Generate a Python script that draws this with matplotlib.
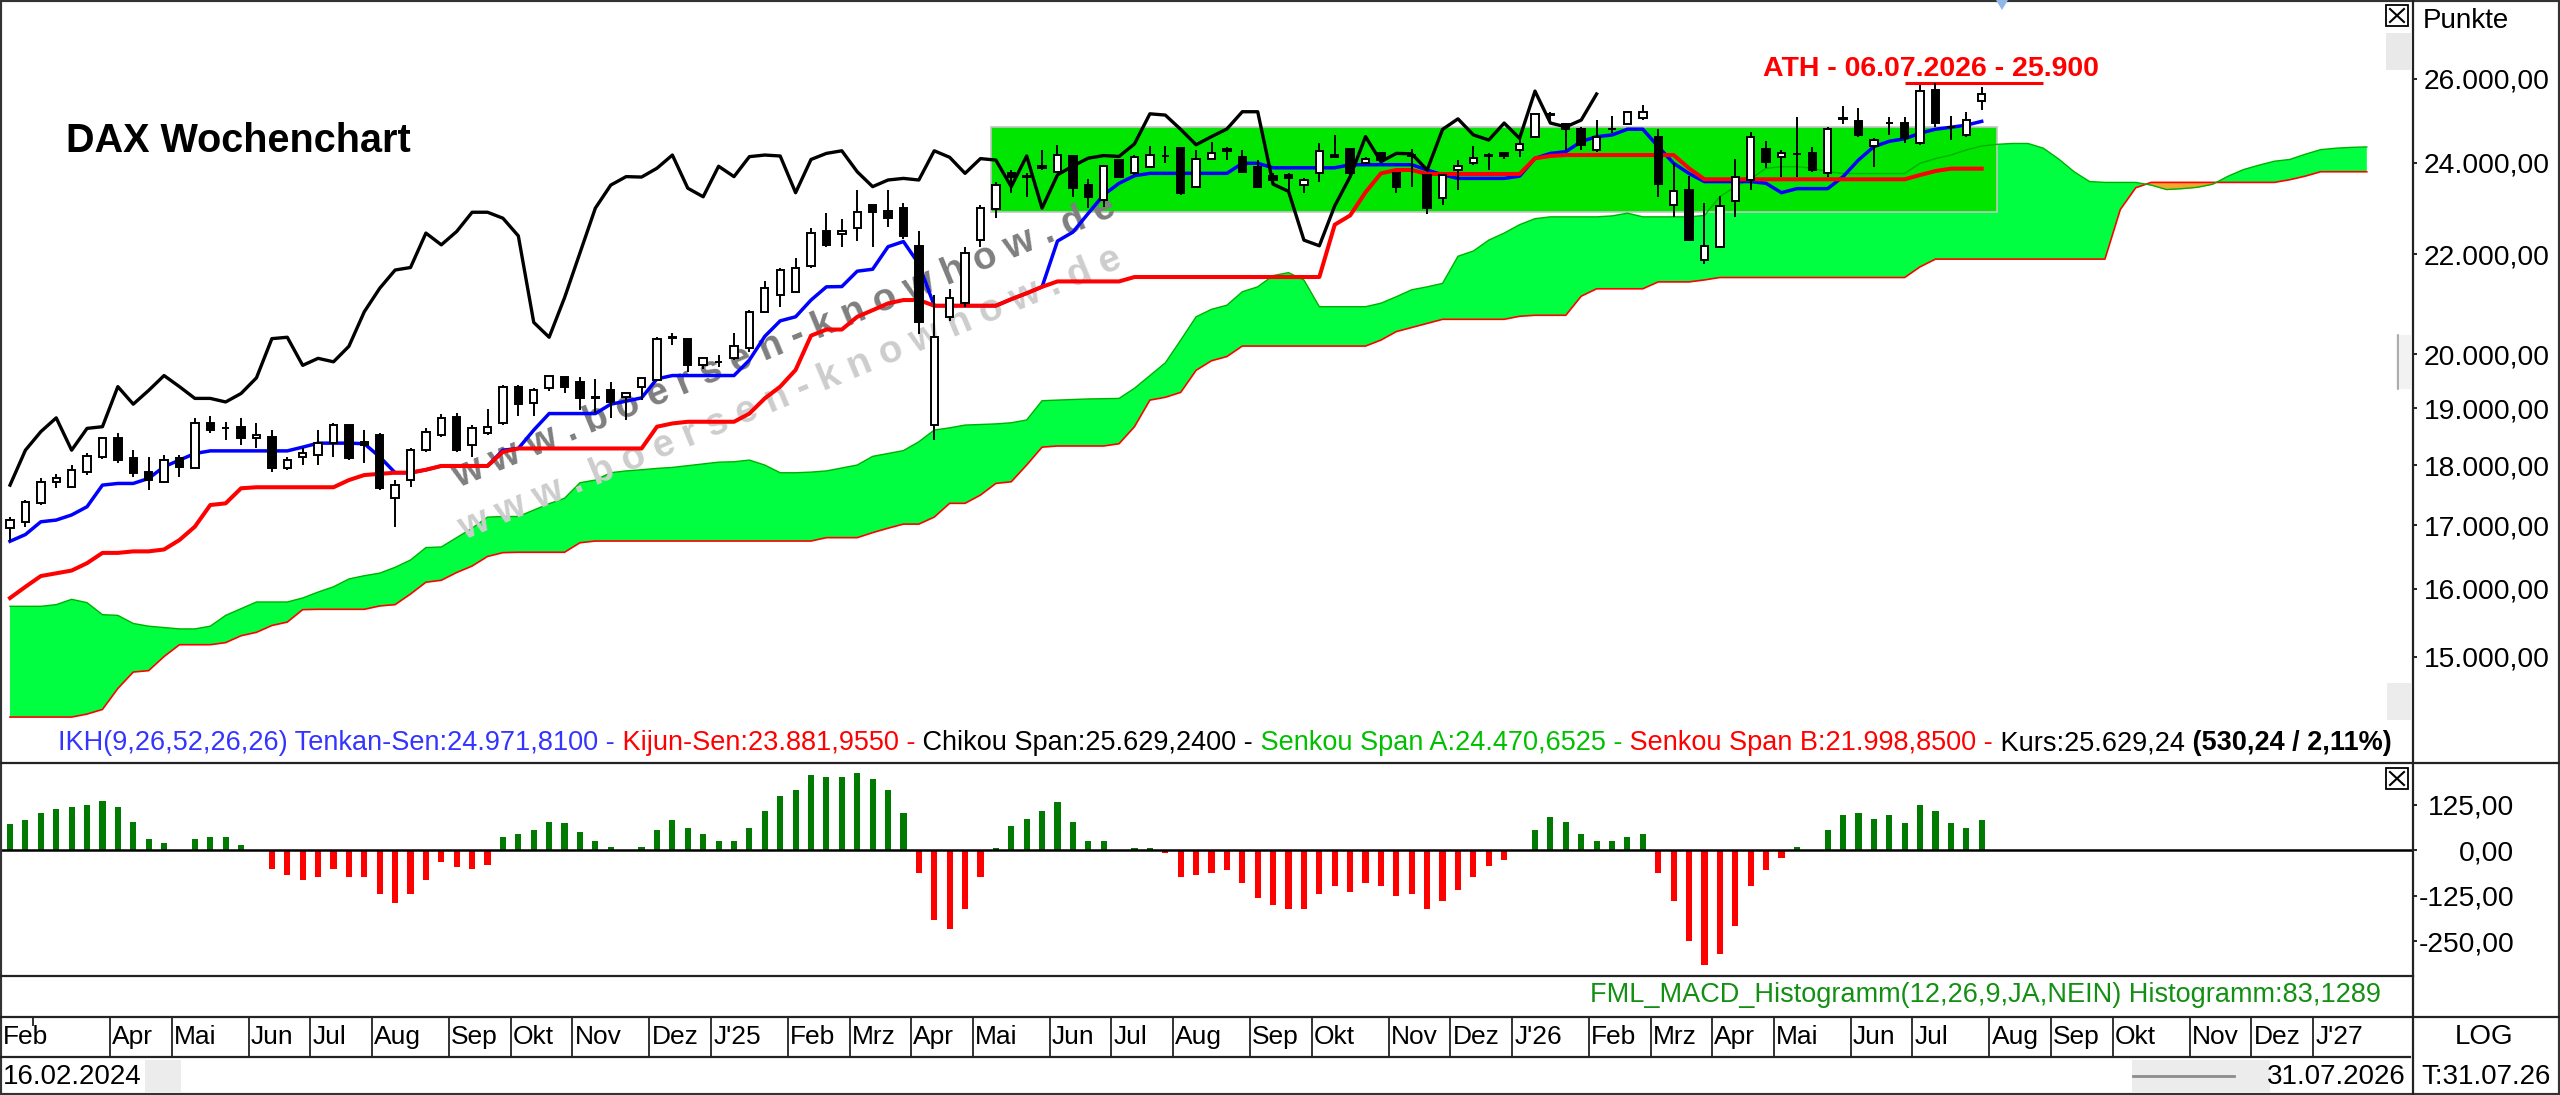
import numpy as np
import pandas as pd
import matplotlib
matplotlib.use("Agg")
import matplotlib.pyplot as plt
from matplotlib.patches import Rectangle, Polygon
from matplotlib.lines import Line2D
from matplotlib.ticker import NullLocator

plt.rcParams['font.family'] = ['Liberation Sans', 'DejaVu Sans']

# weekly bars, first bar is Friday 16.02.2024
first_bar = '2024-02-16'
shift = 25  # displacement of Chikou / Senkou in this chart

opens = [16947, 17054, 17356, 17716, 17633, 17886, 18132, 18464, 18114, 17886,
         17716, 18114, 17943, 18728, 18650, 18670, 18464, 18494, 17943, 18132,
         18171, 18380, 18699, 18400, 18523, 17439, 17745, 18257, 18523, 18846,
         18349, 18553, 18728, 19396, 19093, 19366, 19570, 19484, 19200, 19330,
         19210, 19396, 19517, 20320, 20303, 19793, 19850, 19926, 20130, 20830,
         21160, 21227, 21760, 22485, 22420, 22560, 23050, 22920, 22990, 22170,
         18700, 20730, 20996, 22300, 22980, 23764, 23700, 23930, 23800, 24160,
         23510, 23169, 24066, 23764, 23914, 24170, 24340, 23465, 24090, 24310,
         24145, 23914, 23700, 23730, 23510, 23764, 24182, 24310, 24010, 24220,
         23764, 24182, 23730, 23205, 23840, 23990, 24182, 24220, 24297, 24610,
         25150, 24900, 24790, 24297, 24780, 24910, 25050, 24610, 23060, 23400,
         21882, 22160, 23150, 23620, 24310, 24140, 24200, 24240, 23770, 25040,
         24970, 24400, 24940, 24930, 24453, 25727, 24830, 24650, 25450]
highs = [17137, 17410, 17773, 17847, 18001, 18200, 18480, 18553, 18257, 18142,
         18171, 18171, 18817, 18858, 18758, 18817, 18728, 18610, 18142, 18287,
         18610, 18728, 18700, 18610, 18553, 17745, 18287, 18640, 18905, 18917,
         18699, 18989, 19427, 19427, 19366, 19602, 19602, 19570, 19530, 19484,
         19280, 19560, 20337, 20420, 20303, 19926, 19990, 20420, 20865, 21440,
         21726, 21920, 22557, 22880, 22760, 23390, 23050, 23390, 23100, 22500,
         21160, 21280, 22150, 23050, 23560, 23840, 23764, 24297, 24410, 24182,
         23640, 23925, 24066, 24182, 24400, 24380, 24340, 24297, 24490, 24360,
         24297, 24066, 23764, 23764, 23660, 24453, 24640, 24330, 24130, 24260,
         23800, 24330, 23730, 23730, 24066, 24390, 24220, 24260, 24610, 25170,
         25200, 24924, 24830, 25000, 25100, 25220, 25350, 24780, 23993, 23700,
         23100, 23250, 24100, 24730, 24500, 24300, 25080, 24360, 24830, 25340,
         25300, 24570, 25080, 25080, 25860, 25900, 25100, 25200, 25810]
lows = [16749, 16973, 17328, 17607, 17607, 17830, 18110, 18030, 17802, 17579,
        17688, 17802, 17943, 18553, 18434, 18340, 18287, 17886, 17915, 18001,
        18001, 18142, 18086, 18030, 17579, 16973, 17633, 18228, 18494, 18228,
        18142, 18520, 18699, 18870, 18858, 19310, 19280, 18965, 18910, 18817,
        18788, 19149, 19517, 20190, 19670, 19727, 19760, 19893, 20040, 20798,
        20920, 21227, 21726, 22160, 22160, 22280, 22160, 22570, 22320, 20400,
        18434, 20640, 20920, 22160, 22780, 23316, 23240, 23840, 23800, 23240,
        22990, 23023, 23650, 23730, 23880, 24000, 23280, 23430, 24066, 24066,
        23764, 23430, 23540, 23400, 23316, 23570, 24110, 23730, 23980, 24000,
        23316, 23465, 22860, 23060, 23400, 23960, 23840, 24100, 24144, 24570,
        25000, 24297, 24297, 24260, 24700, 24900, 25000, 23241, 22805, 22300,
        21790, 22160, 22800, 23390, 23890, 23690, 23690, 23800, 23690, 24910,
        24610, 23900, 24650, 24450, 24410, 24830, 24530, 24590, 25250]
closes = [17082, 17382, 17716, 17773, 17915, 18154, 18464, 18086, 17860, 17745,
          18086, 17972, 18728, 18610, 18640, 18464, 18523, 17943, 18086, 18200,
          18380, 18699, 18114, 18350, 17607, 17660, 18257, 18582, 18828, 18257,
          18640, 18670, 19396, 19075, 19326, 19602, 19396, 19180, 19180, 19115,
          19270, 19560, 20303, 20330, 19793, 19926, 19860, 20156, 20830, 21300,
          21674, 21726, 22450, 22200, 22485, 22900, 22900, 22770, 22390, 20620,
          20330, 21110, 22030, 22990, 23500, 23690, 23680, 23880, 24182, 23430,
          23240, 23925, 23690, 24145, 24182, 24160, 23330, 24080, 24220, 24280,
          23800, 23465, 23614, 23650, 23614, 24280, 24130, 23764, 24100, 24066,
          23465, 24160, 22990, 23730, 23930, 24110, 24170, 24150, 24440, 25150,
          25120, 24780, 24420, 24610, 24790, 25200, 25200, 23520, 23360, 22300,
          22180, 23040, 23689, 24610, 24030, 24220, 24210, 23840, 24780, 25030,
          24650, 24530, 24930, 24570, 25700, 24930, 24840, 25000, 25629]

tenkan = [16740, 16848, 17054, 17082, 17165, 17300, 17660, 17688, 17688, 17773,
          17972, 18086, 18200, 18245, 18245, 18245, 18245, 18245, 18245, 18310,
          18380, 18380, 18380, 18370, 18142, 17870, 17870, 17920, 17985, 17985,
          17985, 17985, 18257, 18287, 18610, 18905, 18905, 18905, 18905, 19075,
          19130, 19190, 19540, 19602, 19602, 19602, 19602, 19602, 19893, 20348,
          20650, 20730, 21063, 21330, 21335, 21650, 21690, 22160, 22270, 21800,
          20950, 20950, 20950, 20950, 20950, 21080, 21200, 21330, 22280, 22470,
          22876, 23283, 23540, 23710, 23764, 23764, 23764, 23764, 23764, 23764,
          23993, 23993, 23890, 23890, 23890, 23890, 23890, 23960, 23960, 23960,
          23960, 23960, 23840, 23730, 23650, 23650, 23650, 23650, 23700, 24106,
          24220, 24259, 24493, 24610, 24648, 24784, 24784, 24376, 23993, 23760,
          23578, 23578, 23578, 23578, 23540, 23330, 23420, 23420, 23420, 23689,
          24068, 24376, 24500, 24560, 24690, 24784, 24830, 24880, 24970]
kijun = [15860, 16030, 16195, 16237, 16280, 16395, 16556, 16556, 16580, 16580,
         16610, 16760, 16975, 17328, 17356, 17607, 17624, 17624, 17624, 17624,
         17624, 17624, 17745, 17830, 17850, 17870, 17870, 17920, 17985, 17985,
         17985, 17985, 18228, 18287, 18287, 18287, 18287, 18287, 18287, 18287,
         18287, 18287, 18670, 18728, 18758, 18758, 18758, 18758, 18905, 19180,
         19396, 19707, 20361, 20480, 20480, 20730, 20860, 20996, 21063, 21063,
         20950, 20950, 20950, 20950, 20950, 21080, 21200, 21330, 21440, 21440,
         21440, 21440, 21440, 21530, 21530, 21530, 21530, 21530, 21530, 21530,
         21530, 21530, 21530, 21530, 21530, 21530, 22630, 22830, 23340, 23764,
         23840, 23840, 23750, 23750, 23750, 23750, 23750, 23750, 23750, 24106,
         24160, 24182, 24182, 24182, 24182, 24182, 24182, 24182, 24182, 23878,
         23630, 23630, 23630, 23630, 23630, 23630, 23630, 23630, 23630, 23630,
         23630, 23630, 23630, 23630, 23726, 23817, 23870, 23870, 23870]

# Senkou spans as drawn (already displaced), first value sits under the first bar
senkou_a = [15735, 15735, 15735, 15760, 15840, 15790, 15610, 15600, 15480, 15440,
            15420, 15400, 15400, 15440, 15600, 15700, 15800, 15800, 15800, 15860,
            15950, 16030, 16150, 16200, 16240, 16330, 16444, 16640, 16650, 16800,
            16950, 17130, 17140, 17140, 17245, 17350, 17440, 17700, 17745, 17870,
            17900, 17920, 17943, 17960, 17990, 18020, 18050, 18057, 18086, 18000,
            17869, 17869, 17880, 17900, 17950, 18001, 18150, 18200, 18250, 18404,
            18610, 18650, 18699, 18710, 18720, 18740, 18790, 19138, 19150, 19160,
            19170, 19175, 19180, 19366, 19602, 19840, 20275, 20730, 20878, 20960,
            21230, 21330, 21560, 21620, 21469, 20930, 20930, 20930, 20930, 21000,
            21130, 21270, 21330, 21400, 21960, 22070, 22300, 22450, 22630, 22760,
            22800, 22800, 22800, 22800, 22820, 22880, 22800, 22800, 22800, 22800,
            22830, 23241, 23465, 23640, 23878, 23915, 23915, 23880, 23800, 23760,
            23760, 23760, 23760, 23760, 23993, 24100, 24182, 24300, 24390, 24430,
            24450, 24450, 24340, 24090, 23800, 23580, 23560, 23560, 23560, 23500,
            23400, 23420, 23450, 23520, 23700, 23850, 23950, 24040, 24080, 24200,
            24306, 24340, 24360, 24370]
senkou_b = [14160, 14160, 14160, 14160, 14160, 14200, 14263, 14550, 14780, 14800,
            15000, 15170, 15170, 15170, 15200, 15300, 15350, 15450, 15500, 15685,
            15690, 15690, 15690, 15690, 15740, 15760, 15920, 16100, 16130, 16250,
            16350, 16500, 16560, 16566, 16566, 16566, 16566, 16717, 16744, 16744,
            16744, 16744, 16744, 16744, 16744, 16744, 16744, 16744, 16744, 16744,
            16744, 16744, 16744, 16798, 16798, 16798, 16878, 16950, 17016, 17016,
            17130, 17356, 17356, 17493, 17688, 17716, 18001, 18310, 18330, 18330,
            18330, 18330, 18370, 18670, 19149, 19200, 19290, 19700, 19880, 19960,
            20160, 20160, 20160, 20160, 20160, 20160, 20160, 20160, 20160, 20275,
            20440, 20520, 20600, 20680, 20680, 20680, 20680, 20680, 20740, 20760,
            20760, 20760, 21140, 21290, 21290, 21290, 21290, 21430, 21430, 21430,
            21470, 21520, 21520, 21520, 21520, 21520, 21520, 21520, 21520, 21520,
            21520, 21520, 21520, 21520, 21740, 21900, 21900, 21900, 21900, 21900,
            21900, 21900, 21900, 21900, 21900, 21900, 21900, 22960, 23440, 23560,
            23560, 23560, 23560, 23560, 23560, 23560, 23560, 23560, 23620, 23700,
            23800, 23800, 23800, 23800]

macd_hist = [72, 83, 101, 113, 119, 125, 136, 119, 78, 30,
             19, 0, 30, 37, 37, 13, 0, -51, -69, -81,
             -75, -51, -75, -75, -122, -145, -122, -81, -33, -46,
             -52, -40, 37, 43, 55, 78, 73, 49, 25, 7,
             0, 7, 55, 83, 60, 43, 25, 25, 60, 108,
             149, 166, 207, 201, 201, 212, 195, 166, 101, -63,
             -192, -216, -162, -74, 6, 65, 84, 108, 131, 78,
             25, 25, 0, 6, 6, -9, -73, -68, -62, -56,
             -91, -133, -151, -162, -162, -121, -98, -115, -91, -98,
             -126, -121, -162, -139, -109, -73, -45, -27, 0, 55,
             90, 78, 43, 25, 25, 37, 43, -63, -139, -250,
             -315, -286, -210, -98, -56, -22, 7, 0, 55, 96,
             101, 84, 96, 73, 125, 108, 73, 61, 83]

price_ticks = [15000, 16000, 17000, 18000, 19000, 20000, 22000, 24000, 26000]
hist_ticks = [125, 0, -125, -250]
month_abbr = {2: 'Feb', 3: 'Mrz', 4: 'Apr', 5: 'Mai', 6: 'Jun', 7: 'Jul',
              8: 'Aug', 9: 'Sep', 10: 'Okt', 11: 'Nov', 12: 'Dez'}

# sideways zone and all time high marker
zone_low, zone_high = 22900, 24830
zone_from, zone_to = 63.7, 129.0
ath_value = 25900
ath_from, ath_to = 123.0, 132.0

info_parts = [("IKH(9,26,52,26,26) Tenkan-Sen:24.971,8100 -", '#3434ff', 'normal'),
              (" Kijun-Sen:23.881,9550 -", '#ff0000', 'normal'),
              (" Chikou Span:25.629,2400 -", '#000000', 'normal'),
              (" Senkou Span A:24.470,6525 -", '#00c000', 'normal'),
              (" Senkou Span B:21.998,8500 -", '#ff0000', 'normal'),
              (" Kurs:25.629,24", '#000000', 'normal'),
              (" (530,24 / 2,11%)", '#000000', 'bold')]


def de_num(v):
    s = f'{v:,.2f}'
    return s.replace(',', '#').replace('.', ',').replace('#', '.')


W, H = 2560, 1095


def fx(px):
    return px / W


def fy(py):
    return 1 - py / H


def px_rect(x0, y0, x1, y1, **kw):
    return Rectangle((fx(x0), fy(y1)), fx(x1) - fx(x0), (y1 - y0) / H,
                     transform=fig.transFigure, **kw)


o, h, l, c = (np.array(v, dtype=float) for v in (opens, highs, lows, closes))
sa, sb = np.array(senkou_a, dtype=float), np.array(senkou_b, dtype=float)
hist = np.array(macd_hist, dtype=float)
x = np.arange(len(c))
xc = np.arange(len(sa))
dates = pd.date_range(first_bar, periods=len(sa), freq='7D')

fig = plt.figure(figsize=(W / 100, H / 100), dpi=100)
fig.patch.set_facecolor('white')
x_left, x_right = -0.65, 156.0

# ---------------- price panel ----------------
ax = fig.add_axes([0, fy(763), fx(2413), 763 / H])
ax.set_yscale('log')

ax.fill_between(xc, sa, sb, where=sa >= sb, interpolate=True, color='#00ff40', lw=0, zorder=1)
ax.fill_between(xc, sa, sb, where=sa < sb, interpolate=True, color='#f0a830', lw=0, zorder=1)
ax.add_patch(Rectangle((zone_from, zone_low), zone_to - zone_from, zone_high - zone_low,
                       facecolor='#00e600', edgecolor='#c4c4c4', lw=1.2, zorder=1.5))
ax.plot(xc, sb, color='#ff0000', lw=1.2, zorder=2)
ax.plot(xc, sa, color='#00b000', lw=1.0, zorder=2)

wm = 'w w w . b o e r s e n - k n o w h o w . d e'
ax.text(fx(790), fy(394), wm, transform=fig.transFigure, rotation=22.5, rotation_mode='anchor',
        ha='center', va='center', fontsize=27.5, fontweight='bold', color='#cdcdcd', zorder=2.5)
ax.text(fx(784), fy(342), wm, transform=fig.transFigure, rotation=22.5, rotation_mode='anchor',
        ha='center', va='center', fontsize=27.5, fontweight='bold', color='#7e7e7e', zorder=2.6)

ax.plot(x, tenkan, color='#0000ff', lw=2.5, zorder=3)
ax.plot(x, kijun, color='#ff0000', lw=2.9, zorder=3.1)
ax.plot(x[:len(c) - shift], c[shift:], color='black', lw=2.4, zorder=3.2)

up = c >= o
ax.vlines(x, l, h, color='black', lw=1.4, zorder=4)
ax.bar(x, np.abs(c - o), bottom=np.minimum(o, c), width=0.48,
       color=np.where(up, 'white', 'black'), edgecolor='black', lw=1.4, zorder=5)

ax.hlines(ath_value, ath_from, ath_to, color='#ff0000', lw=2.2, zorder=3)
ax.text(113.8, 26072, 'ATH - 06.07.2026 - 25.900', color='#ff0000', fontsize=20.5,
        fontweight='bold', va='baseline', zorder=6)

ax.set_xlim(x_left, x_right)
ax.set_ylim(13554, 28029)
ax.yaxis.tick_right()
ax.set_yticks(price_ticks, labels=[de_num(v) for v in price_ticks])
ax.yaxis.set_minor_locator(NullLocator())
ax.tick_params(axis='y', which='major', direction='out', length=3, width=1.2, pad=4.5,
               labelsize=20.3)
ax.tick_params(axis='x', bottom=False, labelbottom=False)
for s in ax.spines.values():
    s.set_visible(False)

fig.text(fx(66), fy(141), 'DAX Wochenchart', fontsize=28.5, fontweight='bold', va='center')

# coloured indicator line
renderer = fig.canvas.get_renderer()
pos = 58
for txt, col, wt in info_parts:
    t = fig.text(fx(pos), fy(750), txt, color=col, fontweight=wt, fontsize=19.5, va='baseline')
    pos += t.get_window_extent(renderer).width

# ---------------- MACD histogram ----------------
ax2 = fig.add_axes([0, fy(976), fx(2413), (976 - 763) / H])
ax2.bar(x, hist, width=0.4, color=np.where(hist >= 0, '#007a00', '#ff0000'), zorder=2)
ax2.axhline(0, color='black', lw=1.8, zorder=3)
ax2.set_xlim(x_left, x_right)
ax2.set_ylim(-346, 239)
ax2.yaxis.tick_right()
ax2.set_yticks(hist_ticks, labels=[de_num(v) for v in hist_ticks], ha='right')
ax2.tick_params(axis='y', direction='out', length=3, width=1.2, pad=70, labelsize=20.3)
ax2.tick_params(axis='x', bottom=False, labelbottom=False)
for s in ax2.spines.values():
    s.set_visible(False)
fig.text(fx(2381), fy(995), 'FML_MACD_Histogramm(12,26,9,JA,NEIN) Histogramm:83,1289',
         color='#139013', fontsize=19.5, ha='right', va='center')

# ---------------- month row ----------------
axm = fig.add_axes([0, fy(1057), fx(2413), 40 / H])
axm.set_xlim(x_left, x_right)
axm.set_ylim(0, 1)
axm.axis('off')
axm.text(-0.45, 0.5, month_abbr[dates[0].month], fontsize=19, va='center')
last_label = -0.45
for i in range(1, len(dates)):
    if dates[i].month == dates[i - 1].month:
        continue
    b = i - 0.5
    if b - last_label < 3.5:
        axm.vlines(b, 0.78, 1.0, color='#222222', lw=1.3)
        continue
    axm.axvline(b, color='#222222', lw=1.3)
    m = dates[i].month
    name = f"J'{dates[i].strftime('%y')}" if m == 1 else month_abbr[m]
    axm.text(b + 0.15, 0.5, name, fontsize=19, va='center')
    last_label = b

# ---------------- frame and chart-window furniture ----------------
frame_lines = [((2413, 2413), (0, 1095)), ((0, 2560), (763, 763)), ((0, 2413), (976, 976)),
               ((0, 2560), (1017, 1017)), ((0, 2410), (1057, 1057))]
for (x0, x1), (y0, y1) in frame_lines:
    fig.add_artist(Line2D([fx(x0), fx(x1)], [fy(y0), fy(y1)], transform=fig.transFigure,
                          color='#222222', lw=1.6))
fig.add_artist(Rectangle((0, 0), 1, 1, transform=fig.transFigure, fill=False,
                         edgecolor='#333333', lw=3))

for bx, by in [(2386, 5), (2386, 768)]:
    fig.add_artist(px_rect(bx, by, bx + 22, by + 21, facecolor='white', edgecolor='black', lw=1.3))
    fig.add_artist(Line2D([fx(bx + 4), fx(bx + 18)], [fy(by + 4), fy(by + 17)],
                          transform=fig.transFigure, color='black', lw=1.5))
    fig.add_artist(Line2D([fx(bx + 4), fx(bx + 18)], [fy(by + 17), fy(by + 4)],
                          transform=fig.transFigure, color='black', lw=1.5))

fig.add_artist(px_rect(2386, 33, 2411, 70, facecolor='#e9e9e9', lw=0))
fig.add_artist(px_rect(2396, 335, 2411, 389, facecolor='#f2f2f2', lw=0))
fig.add_artist(Line2D([fx(2398), fx(2398)], [fy(335), fy(389)], transform=fig.transFigure,
                      color='#a0a0a0', lw=1.2))
fig.add_artist(px_rect(2387, 683, 2411, 720, facecolor='#ececec', lw=0))
fig.add_artist(Polygon([[fx(1996), fy(0)], [fx(2008), fy(0)], [fx(2002), fy(10)]],
                       closed=True, transform=fig.transFigure, facecolor='#8fb8e8', lw=0))

fig.text(fx(2423), fy(21), 'Punkte', fontsize=20, va='center')
fig.text(fx(2484), fy(1037), 'LOG', fontsize=20, ha='center', va='center')
last_bar = dates[len(c) - 1]
fig.text(fx(2421), fy(1077), 'T:' + last_bar.strftime('%d.%m.%y'), fontsize=20, va='center')

fig.text(fx(3), fy(1077), dates[0].strftime('%d.%m.%Y'), fontsize=20, va='center')
fig.add_artist(px_rect(145, 1060, 181, 1093, facecolor='#ececec', lw=0))
fig.add_artist(px_rect(2132, 1060, 2270, 1093, facecolor='#ececec', lw=0))
fig.add_artist(Line2D([fx(2133), fx(2234)], [fy(1076), fy(1076)], transform=fig.transFigure,
                      color='#8c8c8c', lw=2))
fig.text(fx(2406), fy(1077), last_bar.strftime('%d.%m.%Y'), fontsize=20, ha='right', va='center')

fig.savefig('out.png', dpi=100)
